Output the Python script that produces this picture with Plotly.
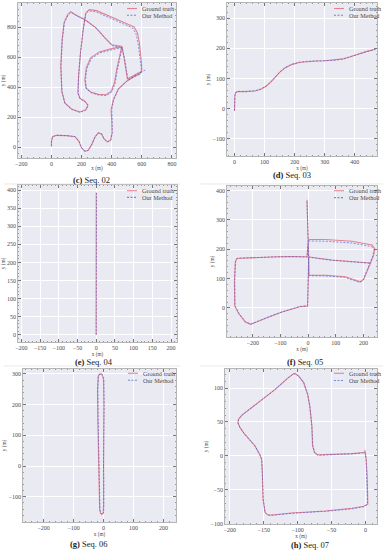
import plotly.graph_objects as go

# ---------------- data (metres) ----------------
seq02_gt_x = [0, 0, 7, 33, 100, 156, 182, 200, 222, 244, 267, 289, 311, 333, 349, 371, 393, 402, 400, 396, 411, 444, 496, 544, 589, 600, 596, 584, 571, 549, 478, 389, 300, 251, 229, 211, 193, 180, 176, 189, 222, 242, 229, 189, 133, 89, 69, 62, 71, 84, 107, 127, 162, 229, 296, 356, 400, 467, 451, 433, 418, 396, 362, 311, 260, 229, 222, 231, 260, 318, 400, 467, 482, 496, 504, 567, 600]
seq02_gt_y = [7, 40, 71, 80, 78, 71, 40, -4, -27, -20, 18, 69, 96, 89, 56, 36, 47, 96, 184, 251, 318, 389, 438, 469, 491, 513, 584, 696, 762, 802, 833, 873, 911, 918, 896, 784, 629, 473, 362, 327, 307, 282, 251, 236, 256, 296, 373, 540, 718, 833, 884, 904, 882, 847, 796, 729, 684, 673, 607, 518, 429, 373, 351, 353, 369, 396, 451, 529, 596, 636, 658, 673, 596, 518, 456, 491, 507]
seq02_est_x = [0, 1, 8, 34, 101, 157, 183, 201, 223, 245, 268, 290, 312, 334, 350, 372, 394, 404, 403, 400, 414, 446, 497, 545, 590, 598, 590, 576, 562, 540, 470, 382, 295, 247, 226, 209, 192, 180, 177, 190, 223, 243, 230, 190, 134, 90, 70, 63, 72, 86, 110, 131, 166, 234, 301, 360, 404, 470, 455, 437, 422, 400, 366, 315, 264, 233, 226, 235, 264, 322, 404, 470, 486, 500, 509, 580, 622]
seq02_est_y = [7, 40, 71, 80, 78, 72, 41, -3, -26, -19, 19, 70, 97, 90, 57, 37, 48, 97, 185, 252, 319, 390, 439, 468, 489, 510, 580, 690, 755, 795, 826, 866, 903, 910, 889, 778, 624, 469, 359, 324, 304, 280, 249, 233, 253, 293, 370, 537, 714, 829, 880, 900, 878, 842, 790, 722, 677, 665, 600, 512, 424, 368, 346, 348, 364, 391, 446, 524, 590, 630, 651, 665, 590, 512, 450, 492, 515]

seq03_gt_x = [0, 0, 1, 3, 10, 35, 68, 88, 105, 120, 135, 150, 168, 190, 215, 240, 270, 300, 330, 360, 385, 410, 440, 470]
seq03_gt_y = [-8, 18, 40, 52, 56, 56, 58, 64, 74, 87, 103, 120, 135, 146, 153, 156, 158, 159, 161, 165, 172, 181, 190, 198]
seq03_est_x = [0, 0, 1, 3, 10, 35, 68, 88, 105, 120, 135, 150, 168, 190, 215, 240, 270, 300, 330, 360, 385, 410, 440, 468]
seq03_est_y = [-6, 19, 41, 53, 57, 57, 59, 65, 75, 88, 104, 121, 136, 147, 154, 157, 158, 159, 160, 164, 171, 180, 189, 196]

seq04_gt_x = [0, 0.5, 1, 1, 0.5, 0]
seq04_gt_y = [0, 100, 200, 300, 360, 393]
seq04_est_x = [0, 0, 0.5, 1, 1, 1]
seq04_est_y = [0, 100, 200, 300, 360, 392]

seq05_gt_x = [225, 160, 87, 30, 2, 1, 0, -2, -30, -60, -94, -142, -184, -208, -227, -251, -265, -266, -263, -257, -239, -180, -118, -60, -4, 1, 63, 159, 207, 231, 241, 237, 225, 213, 201, 189, 171, 135, 63, 3, 2, 1, -2, -4]
seq05_gt_y = [153, 158, 163, 170, 174, 111, 50, 6, 4, -4, -14, -31, -48, -56, -48, -19, 6, 94, 157, 168, 169, 172, 174, 175, 174, 233, 233, 227, 219, 214, 202, 180, 151, 123, 97, 89, 94, 106, 111, 111, 174, 233, 300, 367]
seq05_est_x = [222, 158, 86, 30, 2, 1, 0, -1, -29, -59, -93, -141, -183, -207, -226, -250, -264, -265, -262, -256, -238, -179, -117, -59, -3, 1, 63, 158, 205, 229, 238, 234, 222, 210, 198, 186, 168, 132, 62, 3, 2, 1, -2, -4]
seq05_est_y = [152, 157, 162, 169, 173, 110, 49, 8, 5, -3, -13, -30, -47, -55, -47, -18, 7, 95, 158, 169, 170, 172, 174, 175, 173, 228, 227, 221, 213, 209, 198, 177, 149, 121, 95, 87, 92, 104, 109, 110, 173, 231, 300, 368]

seq06_gt_x = [0, 1, 1, 0, -3, -8, -14, -18, -20, -19, -17, -15, -13, -10, -5, -1, 0, 0, 0]
seq06_gt_y = [0, 100, 200, 280, 294, 300, 299, 292, 250, 150, 50, -60, -140, -153, -157, -152, -130, -50, 0]
seq06_est_x = [0, 2, 2, 1, -2, -7, -13, -17, -19, -18, -16, -14, -12, -9, -4, 0, 1, 1, 0]
seq06_est_y = [0, 100, 200, 281, 296, 301, 300, 293, 250, 150, 50, -60, -141, -155, -158, -153, -131, -50, 0]

seq07_gt_x = [-1, 0, 1, 2.5, 4, 3.5, -2.5, -20, -59, -109, -138, -144, -148, -151, -152, -153, -156, -163, -178, -185, -188, -187, -182, -158, -133, -114, -106, -103, -98, -91, -85, -82, -79, -78, -75, -70, -49, -20, -3, 0]
seq07_gt_y = [9, 2, -5, -29, -64, -71, -74, -77, -81, -84, -87, -87, -83, -64, -24, -5, 2, 15, 32, 42, 49, 54, 60, 79, 98, 115, 121, 121, 117, 108, 90, 73, 44, 15, 5, 1.5, 2, 3.4, 5, 6]
seq07_est_x = [-1, 0, 1, 2, 3.5, 3, -3, -20, -59, -109, -138, -144, -148, -150.5, -152, -153, -155.5, -163, -178, -185, -188, -187, -182, -158, -133, -114, -106, -103, -98, -91, -85, -82, -79, -77.5, -75, -70, -49, -20, -3, 0]
seq07_est_y = [5, 2, -5, -29, -64, -71, -75, -78, -81.5, -84.5, -87.5, -87, -83, -64, -24, -5, 2, 15, 32, 42, 49, 54, 60, 79, 98, 115, 121, 121, 117, 108, 90, 73, 44, 15, 5, 1, 1.5, 3, 4.5, 5]

panel_letters = ["c", "d", "e", "f", "g", "h"]
panel_seqs = ["02", "03", "04", "05", "06", "07"]
series_names = ["Ground truth", "Our Method"]

# ---------------- layout config ----------------
W, H = 385, 550
FONT = "Liberation Serif"
TXT = "#4a4a4a"
GT_COLOR = "rgba(225,95,115,0.75)"
EST_COLOR = "rgba(70,90,210,0.7)"
EST_DASH = "2px,1.5px"

data = [
    (seq02_gt_x, seq02_gt_y, seq02_est_x, seq02_est_y),
    (seq03_gt_x, seq03_gt_y, seq03_est_x, seq03_est_y),
    (seq04_gt_x, seq04_gt_y, seq04_est_x, seq04_est_y),
    (seq05_gt_x, seq05_gt_y, seq05_est_x, seq05_est_y),
    (seq06_gt_x, seq06_gt_y, seq06_est_x, seq06_est_y),
    (seq07_gt_x, seq07_gt_y, seq07_est_x, seq07_est_y),
]
# plot boxes in pixels: left, right, top, bottom
boxes = [(18, 176, 3, 158), (227, 377, 3, 156), (18, 177, 185, 342),
         (227, 377, 186, 337), (23, 176, 369, 522), (225, 377, 369, 524)]
xranges = [[-222, 827], [-25, 474], [-209, 216], [-293, 249], [-269, 242], [-207, 17]]
yranges = [[-71, 962], [-158, 351], [-20, 414], [-99, 415], [-182, 316], [-100.2, 128]]
dticks = [(200, 200), (100, 100), (50, 50), (100, 100), (100, 100), (50, 50)]
captions_pos = [(91, 180), (292, 175), (94, 362), (305, 362), (89, 544), (310, 545)]
# legend: sample-line x0, x1, first row y, row gap (pixels)
legend_pos = [(127, 137, 8.5, 6.7), (334, 344, 8.5, 6.7), (127, 137, 190.7, 6.7),
              (334, 344, 190.7, 6.9), (128, 138, 373.3, 6.9), (334, 344, 373.3, 7.2)]

fig = go.Figure()
annotations = []
shapes = []
layout_upd = {}
for i in range(6):
    n = i + 1
    sfx = "" if n == 1 else str(n)
    gx, gy, ex, ey = data[i]
    fig.add_trace(go.Scatter(x=gx, y=gy, mode="lines", name=series_names[0],
                             line=dict(color=GT_COLOR, width=1.1), showlegend=False,
                             xaxis="x" + sfx, yaxis="y" + sfx))
    fig.add_trace(go.Scatter(x=ex, y=ey, mode="lines", name=series_names[1],
                             line=dict(color=EST_COLOR, width=0.9, dash=EST_DASH), showlegend=False,
                             xaxis="x" + sfx, yaxis="y" + sfx))
    l, r, t, b = boxes[i]
    common = dict(showgrid=True, gridcolor="white", gridwidth=0.7, zeroline=False,
                  showline=True, linecolor="#b5b5b5", linewidth=0.6, mirror="allticks",
                  ticks="inside", ticklen=3, tickwidth=0.6, tickcolor="#777",
                  tickfont=dict(family=FONT, size=6, color=TXT), automargin=False, tick0=0)
    layout_upd["xaxis" + sfx] = dict(common, domain=[l / W, r / W], range=xranges[i],
                                     dtick=dticks[i][0], anchor="y" + sfx,
                                     minor=dict(ticks="inside", ticklen=1.5, tickwidth=0.4,
                                                tickcolor="#999", dtick=dticks[i][0] / 5),
                                     title=dict(text="x (m)", font=dict(family=FONT, size=5.2, color=TXT), standoff=0))
    layout_upd["yaxis" + sfx] = dict(common, domain=[1 - b / H, 1 - t / H], range=yranges[i],
                                     dtick=dticks[i][1], anchor="x" + sfx,
                                     minor=dict(ticks="inside", ticklen=1.5, tickwidth=0.4,
                                                tickcolor="#999", dtick=dticks[i][1] / 5),
                                     title=dict(text="y (m)", font=dict(family=FONT, size=5.2, color=TXT), standoff=1))
    # legend (drawn in the top-right corner of each panel)
    lx0, lx1, ly, lgap = legend_pos[i]
    for k, (nm, col, dsh) in enumerate(((series_names[0], GT_COLOR, "solid"),
                                        (series_names[1], EST_COLOR, EST_DASH))):
        yy = ly + k * lgap
        shapes.append(dict(type="line", xref="paper", yref="paper",
                           x0=lx0 / W, x1=lx1 / W, y0=1 - yy / H, y1=1 - yy / H,
                           line=dict(color=col, width=1.1, dash=dsh)))
        annotations.append(dict(x=(lx1 + 2.5) / W, y=1 - yy / H, xref="paper", yref="paper",
                                text=nm, showarrow=False, xanchor="left", yanchor="middle",
                                font=dict(family=FONT, size=6.2, color=TXT)))
    cx, cy = captions_pos[i]
    annotations.append(dict(x=cx / W, y=1 - cy / H, xref="paper", yref="paper",
                            text=f"<b>({panel_letters[i]})</b> Seq. {panel_seqs[i]}",
                            showarrow=False, font=dict(family=FONT, size=8.5, color="#222"),
                            xanchor="center", yanchor="middle"))

for yy in (184, 366):
    for (x0, x1) in ((4, 180), (200, 383)):
        shapes.append(dict(type="line", xref="paper", yref="paper",
                           x0=x0 / W, x1=x1 / W, y0=1 - yy / H, y1=1 - yy / H,
                           line=dict(color="#d8d8d8", width=0.6)))

fig.update_layout(width=W, height=H, margin=dict(l=0, r=0, t=0, b=0),
                  paper_bgcolor="white", plot_bgcolor="#eaeaf2", showlegend=False,
                  font=dict(family=FONT, size=6, color=TXT),
                  annotations=annotations, shapes=shapes, **layout_upd)

fig.write_html("out.html", config={"displayModeBar": False},
               post_script="document.body.style.margin='0px';document.body.style.overflow='hidden';")
